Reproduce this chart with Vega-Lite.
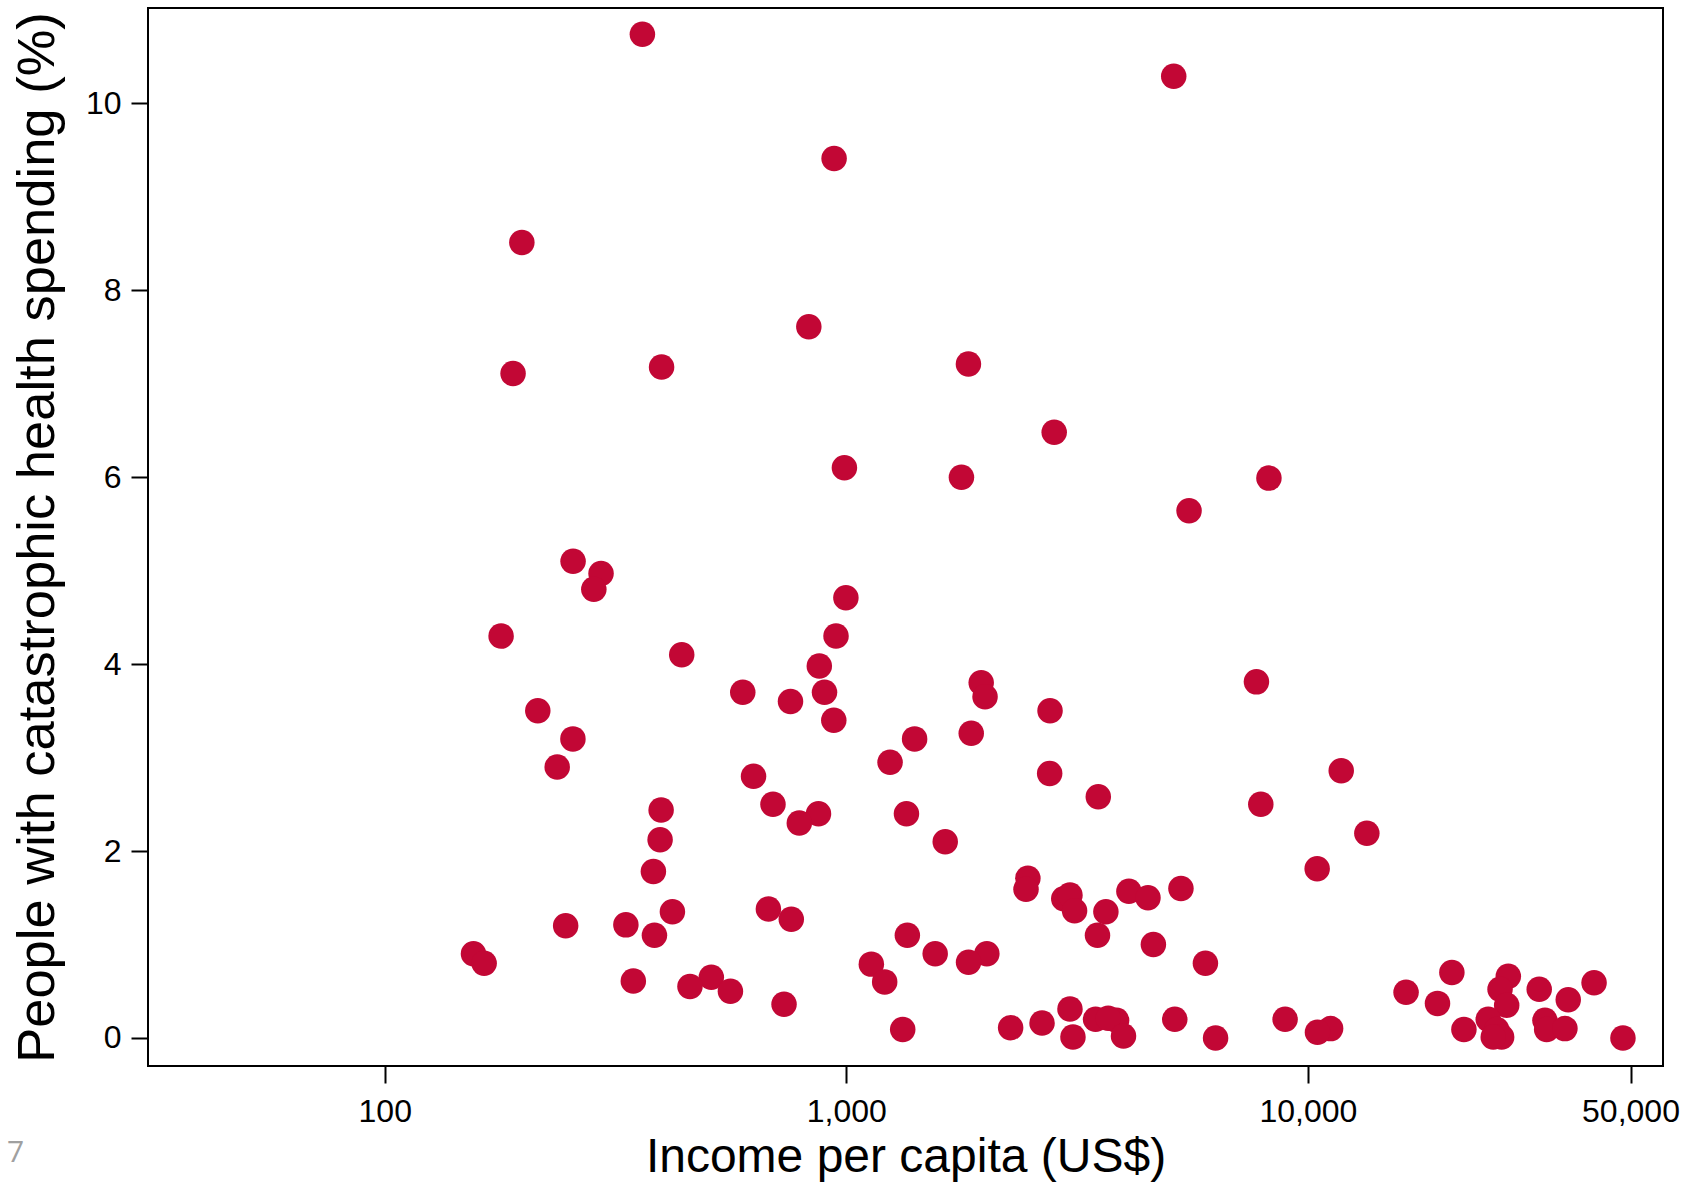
{
  "$schema": "https://vega.github.io/schema/vega-lite/v6.json",
  "width": 1515,
  "height": 1058,
  "autosize": {"type": "none"},
  "padding": {"left": 148, "top": 8, "right": 40, "bottom": 116},
  "background": "white",
  "config": {
    "view": {"stroke": "black", "strokeWidth": 2},
    "font": "Liberation Sans"
  },
  "title": {
    "text": "7",
    "orient": "bottom",
    "anchor": "start",
    "frame": "bounds",
    "font": "Open Sans",
    "fontSize": 30,
    "fontWeight": "normal",
    "color": "#a0a0a0",
    "baseline": "alphabetic",
    "offset": 0,
    "dy": -20,
    "dx": -4
  },
  "data": {
    "values": [
      {"income": 361.6, "pct": 10.74}, {"income": 5121, "pct": 10.29}, {"income": 941, "pct": 9.41},
      {"income": 198.2, "pct": 8.51}, {"income": 829.5, "pct": 7.61}, {"income": 1839, "pct": 7.21},
      {"income": 397.9, "pct": 7.18}, {"income": 189.7, "pct": 7.11}, {"income": 2821, "pct": 6.48},
      {"income": 990.6, "pct": 6.10}, {"income": 1776, "pct": 6.00}, {"income": 8234, "pct": 5.99},
      {"income": 5528, "pct": 5.64}, {"income": 255.9, "pct": 5.10}, {"income": 294.2, "pct": 4.97},
      {"income": 283.8, "pct": 4.80}, {"income": 998, "pct": 4.71}, {"income": 178.7, "pct": 4.30},
      {"income": 950, "pct": 4.30}, {"income": 440, "pct": 4.10}, {"income": 874, "pct": 3.98},
      {"income": 1960, "pct": 3.80}, {"income": 7737, "pct": 3.81}, {"income": 1998, "pct": 3.65},
      {"income": 596.6, "pct": 3.70}, {"income": 897, "pct": 3.70}, {"income": 757, "pct": 3.60},
      {"income": 2763, "pct": 3.50}, {"income": 214.6, "pct": 3.50}, {"income": 939.5, "pct": 3.40},
      {"income": 1406, "pct": 3.20}, {"income": 255.7, "pct": 3.20}, {"income": 1865, "pct": 3.26},
      {"income": 1244, "pct": 2.95}, {"income": 236.4, "pct": 2.90}, {"income": 11810, "pct": 2.86},
      {"income": 2758, "pct": 2.83}, {"income": 629.5, "pct": 2.80}, {"income": 3515, "pct": 2.58},
      {"income": 693.7, "pct": 2.50}, {"income": 7907, "pct": 2.50}, {"income": 397, "pct": 2.44},
      {"income": 1350, "pct": 2.40}, {"income": 870.5, "pct": 2.40}, {"income": 791, "pct": 2.30},
      {"income": 13420, "pct": 2.19}, {"income": 395, "pct": 2.12}, {"income": 1638, "pct": 2.10},
      {"income": 382, "pct": 1.78}, {"income": 10474, "pct": 1.81}, {"income": 2474, "pct": 1.71},
      {"income": 2451, "pct": 1.59}, {"income": 5309, "pct": 1.60}, {"income": 4095, "pct": 1.57},
      {"income": 4504, "pct": 1.50}, {"income": 2959, "pct": 1.49}, {"income": 3052, "pct": 1.53},
      {"income": 3123, "pct": 1.36}, {"income": 3651, "pct": 1.35}, {"income": 678, "pct": 1.38},
      {"income": 420, "pct": 1.35}, {"income": 760, "pct": 1.27}, {"income": 246.6, "pct": 1.20},
      {"income": 333, "pct": 1.21}, {"income": 384, "pct": 1.10}, {"income": 1356, "pct": 1.10},
      {"income": 3501, "pct": 1.10}, {"income": 4627, "pct": 1.00}, {"income": 155.7, "pct": 0.90},
      {"income": 1558, "pct": 0.90}, {"income": 2016, "pct": 0.90}, {"income": 164.2, "pct": 0.80},
      {"income": 1133, "pct": 0.79}, {"income": 1840, "pct": 0.81}, {"income": 5998, "pct": 0.80},
      {"income": 20510, "pct": 0.70}, {"income": 27180, "pct": 0.66}, {"income": 510, "pct": 0.65},
      {"income": 41690, "pct": 0.59}, {"income": 345.6, "pct": 0.61}, {"income": 1211, "pct": 0.60},
      {"income": 458.5, "pct": 0.55}, {"income": 31710, "pct": 0.52}, {"income": 26080, "pct": 0.52},
      {"income": 561, "pct": 0.50}, {"income": 16320, "pct": 0.49}, {"income": 36650, "pct": 0.41},
      {"income": 19090, "pct": 0.37}, {"income": 733, "pct": 0.36}, {"income": 26960, "pct": 0.35},
      {"income": 3052, "pct": 0.31}, {"income": 3468, "pct": 0.20}, {"income": 3851, "pct": 0.19},
      {"income": 3693, "pct": 0.21}, {"income": 5148, "pct": 0.20}, {"income": 8926, "pct": 0.20},
      {"income": 24590, "pct": 0.20}, {"income": 32630, "pct": 0.19}, {"income": 1325, "pct": 0.09},
      {"income": 2270, "pct": 0.11}, {"income": 2655, "pct": 0.16}, {"income": 11200, "pct": 0.10},
      {"income": 10490, "pct": 0.06}, {"income": 21780, "pct": 0.09}, {"income": 32910, "pct": 0.09},
      {"income": 36050, "pct": 0.10}, {"income": 3098, "pct": 0.01}, {"income": 3986, "pct": 0.02},
      {"income": 6310, "pct": 0.00}, {"income": 48150, "pct": 0.00}, {"income": 25640, "pct": 0.09},
      {"income": 26290, "pct": 0.01}, {"income": 25210, "pct": 0.01}
    ]
  },
  "mark": {"type": "circle", "size": 650, "color": "#C20735", "opacity": 1},
  "encoding": {
    "x": {
      "field": "income",
      "type": "quantitative",
      "scale": {"type": "log", "domain": [30.7, 58800], "nice": false},
      "axis": {
        "values": [100, 1000, 10000, 50000],
        "format": ",",
        "domain": false,
        "grid": false,
        "ticks": true,
        "tickSize": 17,
        "tickWidth": 2,
        "tickColor": "black",
        "labelFontSize": 32,
        "labelColor": "black",
        "labelBaseline": "alphabetic",
        "labelPadding": 38,
        "labelFlush": false,
        "labelOverlap": false,
        "title": "Income per capita (US$)",
        "titleFontSize": 48,
        "titleFontWeight": "normal",
        "titleColor": "black",
        "titleBaseline": "alphabetic",
        "titleY": 105.5
      }
    },
    "y": {
      "field": "pct",
      "type": "quantitative",
      "scale": {"domain": [-0.3, 11.02], "nice": false, "zero": false},
      "axis": {
        "values": [0, 2, 4, 6, 8, 10],
        "domain": false,
        "grid": false,
        "tickSize": 17,
        "tickWidth": 2,
        "tickColor": "black",
        "labelFontSize": 32,
        "labelColor": "black",
        "labelPadding": 10,
        "labelFlush": false,
        "labelOverlap": false,
        "title": "People with catastrophic health spending (%)",
        "titleFontSize": 52.5,
        "titleFontWeight": "normal",
        "titleColor": "black",
        "titleBaseline": "alphabetic",
        "titleAngle": -90,
        "titleX": -95,
        "titleY": 529
      }
    }
  }
}
